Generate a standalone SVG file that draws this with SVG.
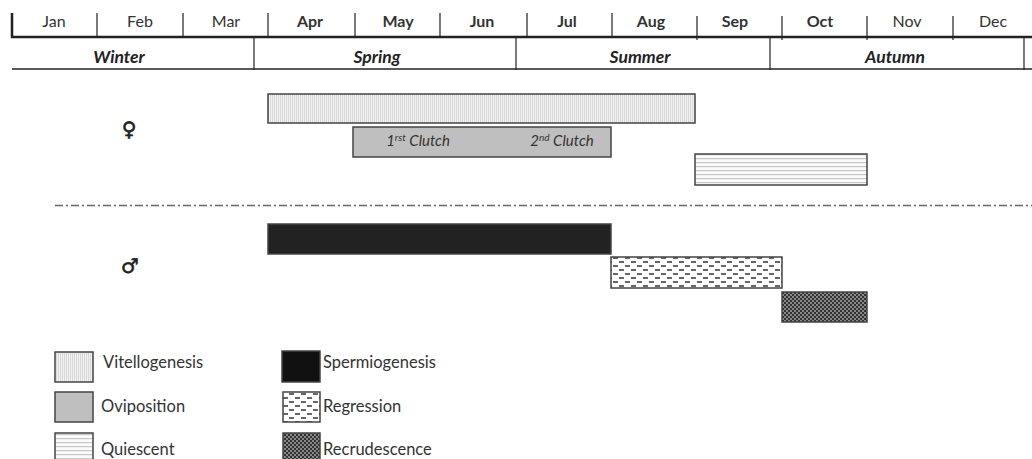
<svg xmlns="http://www.w3.org/2000/svg" width="1032" height="459" viewBox="0 0 1032 459">
<defs>
<pattern id="pVit" width="2" height="4" patternUnits="userSpaceOnUse"><rect width="2" height="4" fill="#f2f2f2"/><rect width="1" height="4" fill="#d8d8d8"/></pattern>
<pattern id="pQui" width="4" height="4" patternUnits="userSpaceOnUse"><rect width="4" height="4" fill="#fbfbfb"/><rect y="2" width="4" height="1.2" fill="#c8c8c8"/></pattern>
<pattern id="pReg" width="12" height="8" patternUnits="userSpaceOnUse"><rect width="12" height="8" fill="#fff"/><rect x="1" y="1" width="5" height="2" fill="#666"/><rect x="7" y="5" width="5" height="2" fill="#666"/></pattern>
<pattern id="pRec" width="4" height="4" patternUnits="userSpaceOnUse"><rect width="4" height="4" fill="#333"/><rect width="2" height="2" fill="#888"/><rect x="2" y="2" width="2" height="2" fill="#888"/></pattern>
</defs>
<style>
.m{font-family:Lato,"Liberation Sans",sans-serif;font-size:16px;fill:#333;text-anchor:middle}
.b{font-weight:bold}
.s{font-family:Lato,"Liberation Sans",sans-serif;font-size:17.5px;font-weight:bold;font-style:italic;fill:#222;text-anchor:middle}
.ln{stroke:#222;fill:none}
.bar{stroke:#444;stroke-width:1.5}
.lg{font-family:Lato,"Liberation Sans",sans-serif;font-size:16.5px;fill:#333}
.cl{font-family:Lato,"Liberation Sans",sans-serif;font-size:15px;font-style:italic;fill:#333;text-anchor:middle}
.sym{font-family:"DejaVu Sans",sans-serif;font-size:20px;font-weight:bold;fill:#222;text-anchor:middle;stroke:#222;stroke-width:0.6}
</style>
<g id="timeline">
<path class="ln" stroke-width="2.5" d="M12 13V37H1032"/>
<path class="ln" stroke-width="1.2" d="M97 13V37M183 13V37M268 13V37M355 13V37M440 13V37M527 13V37M612 13V37M697 16V40M782 16V40M867 16V40M953 16V40"/>
<path class="ln" stroke-width="1.5" d="M12 69H1032"/>
<path class="ln" stroke-width="1.2" d="M254 37V70M516 37V70M770 37V70M1024 37V70"/>
<text class="m" x="54" y="27">Jan</text>
<text class="m" x="140" y="27">Feb</text>
<text class="m" x="226" y="27">Mar</text>
<text class="m b" x="310" y="27">Apr</text>
<text class="m b" x="398" y="27">May</text>
<text class="m b" x="482" y="27">Jun</text>
<text class="m b" x="567" y="27">Jul</text>
<text class="m b" x="651" y="27">Aug</text>
<text class="m b" x="735" y="27">Sep</text>
<text class="m b" x="820" y="27">Oct</text>
<text class="m" x="907" y="27">Nov</text>
<text class="m" x="993" y="27">Dec</text>
<text class="s" x="119" y="63">Winter</text>
<text class="s" x="377" y="63">Spring</text>
<text class="s" x="640" y="63">Summer</text>
<text class="s" x="895" y="63">Autumn</text>
</g>
<g id="female">
<text class="sym" x="129" y="136">♀</text>
<rect id="vitellogenesis" class="bar" x="268" y="94" width="427" height="29" fill="url(#pVit)"/>
<g id="oviposition">
<rect class="bar" x="353" y="127" width="258" height="30" fill="#bfbfbf"/>
<text class="cl" x="418" y="146">1<tspan font-size="10" dy="-5">rst</tspan><tspan dy="5"> Clutch</tspan></text>
<text class="cl" x="562" y="146">2<tspan font-size="10" dy="-5">nd</tspan><tspan dy="5"> Clutch</tspan></text>
</g>
<rect id="quiescent" class="bar" x="695" y="154" width="172" height="31" fill="url(#pQui)"/>
</g>
<g id="connectors">
<line x1="55" y1="205.5" x2="1032" y2="205.5" stroke="#666" stroke-width="1.6" stroke-dasharray="8 3 2 3"/>
</g>
<g id="male">
<text class="sym" x="130" y="273">♂</text>
<rect id="spermiogenesis" class="bar" x="268" y="224" width="343" height="30" fill="#222"/>
<rect id="regression" class="bar" x="611" y="257" width="171" height="31" fill="url(#pReg)"/>
<rect id="recrudescence" class="bar" x="782" y="292" width="85" height="30" fill="url(#pRec)"/>
</g>
<g id="legend">
<rect class="bar" x="55" y="352" width="38" height="30" fill="url(#pVit)"/>
<text class="lg" x="103" y="368">Vitellogenesis</text>
<rect class="bar" x="55" y="392" width="38" height="30" fill="#bfbfbf"/>
<text class="lg" x="101" y="412">Oviposition</text>
<rect class="bar" x="55" y="433" width="38" height="30" fill="url(#pQui)"/>
<text class="lg" x="101" y="455">Quiescent</text>
<rect class="bar" x="282" y="351" width="38" height="31" fill="#111"/>
<text class="lg" x="323" y="368">Spermiogenesis</text>
<rect class="bar" x="283" y="392" width="37" height="30" fill="url(#pReg)"/>
<text class="lg" x="323" y="412">Regression</text>
<rect class="bar" x="283" y="433" width="37" height="30" fill="url(#pRec)"/>
<text class="lg" x="323" y="455">Recrudescence</text>
</g>
</svg>
